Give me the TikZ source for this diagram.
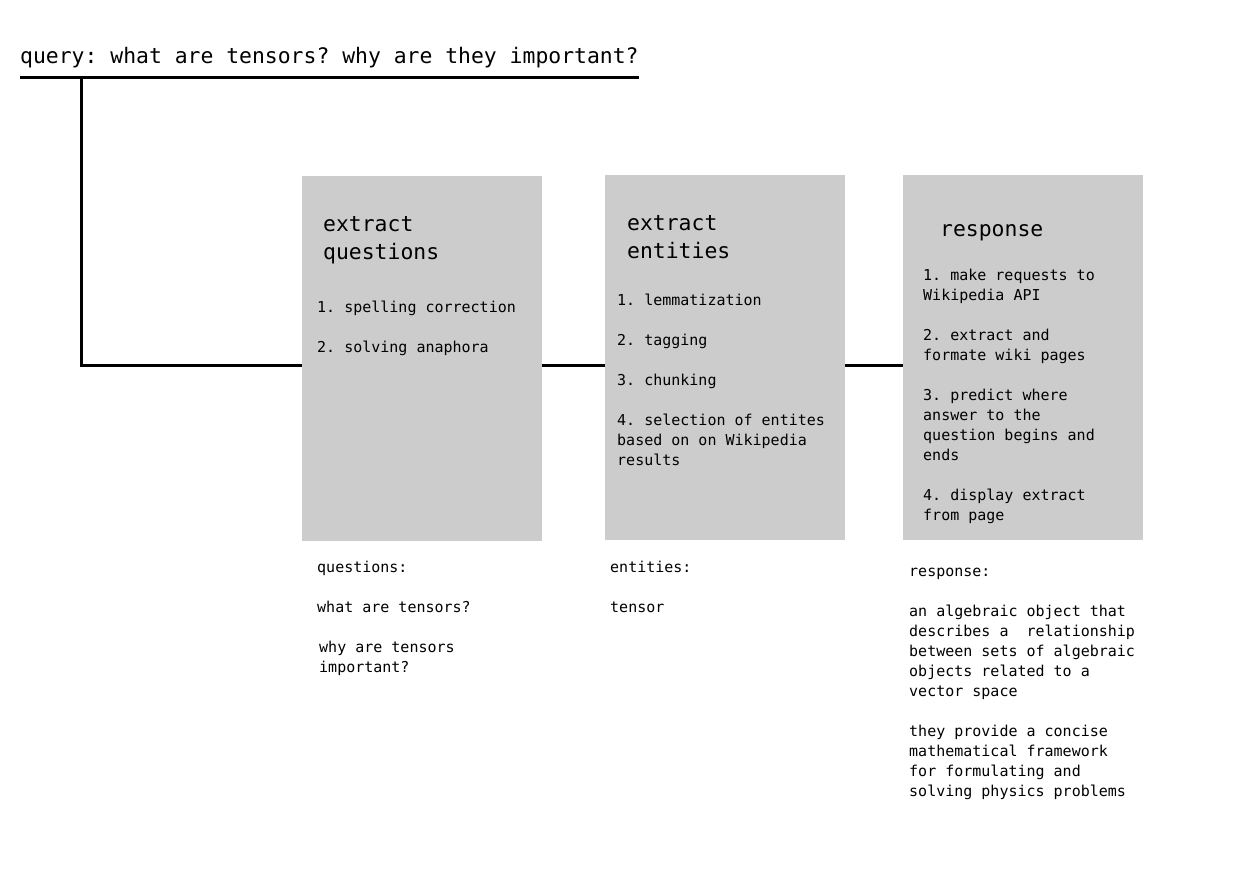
\documentclass[tikz,border=0pt]{standalone}
\usepackage{fontspec}
\newfontfamily\monofam{DejaVu Sans Mono}
\definecolor{boxgray}{HTML}{CCCCCC}
\tikzset{
  stagebox/.style={fill=boxgray, draw=none, inner sep=0pt, minimum width=240pt, minimum height=365pt, anchor=north west},
  bigtxt/.style={font=\monofam\frenchspacing\fontsize{21.4}{28}\selectfont, inner sep=0pt, anchor=base west},
  smalltxt/.style={font=\monofam\frenchspacing\fontsize{15}{20}\selectfont, inner sep=0pt, anchor=base west},
  wire/.style={line width=3pt, black}
}
\newcommand{\tline}[4]{\node[smalltxt] (#1) at (#2,#3) {#4};}
\frenchspacing
\begin{document}
\begin{tikzpicture}[x=1pt,y=-1pt]
\useasboundingbox (0,0) rectangle (1238,876);
% query
\node[bigtxt] (query) at (20,63) {query: what are tensors? why are they important?};
\coordinate (ql) at (20,77);
\coordinate (qr) at (639,77);
\coordinate (qv) at (81,77);
\coordinate (jn) at (81,365);
% boxes
\node[stagebox] (b1) at (302,176) {};
\node[stagebox] (b2) at (605,175) {};
\node[stagebox] (b3) at (903,175) {};
% connectors
\draw[wire] (ql) -- (qr);
\draw[wire] (qv) -- (jn) -- (b1.west |- jn);
\draw[wire] (b1.east |- jn) -- (b2.west |- jn);
\draw[wire] (b2.east |- jn) -- (b3.west |- jn);
% box 1
\node[bigtxt] (t1a) at (323,231) {extract};
\node[bigtxt] (t1b) at (323,259) {questions};
\tline{q1}{317}{312}{1. spelling correction}
\tline{q2}{317}{352}{2. solving anaphora}
% box 2
\node[bigtxt] (t2a) at (627,230) {extract};
\node[bigtxt] (t2b) at (627,258) {entities};
\tline{e1}{617}{305}{1. lemmatization}
\tline{e2}{617}{345}{2. tagging}
\tline{e3}{617}{385}{3. chunking}
\tline{e4}{617}{425}{4. selection of entites}
\tline{e5}{617}{445}{based on on Wikipedia}
\tline{e6}{617}{465}{results}
% box 3
\node[bigtxt] (t3a) at (940,236) {response};
\tline{r1}{923}{280}{1. make requests to}
\tline{r2}{923}{300}{Wikipedia API}
\tline{r3}{923}{340}{2. extract and}
\tline{r4}{923}{360}{formate wiki pages}
\tline{r5}{923}{400}{3. predict where}
\tline{r6}{923}{420}{answer to the}
\tline{r7}{923}{440}{question begins and}
\tline{r8}{923}{460}{ends}
\tline{r9}{923}{500}{4. display extract}
\tline{r10}{923}{520}{from page}
% outputs
\tline{o1}{317}{572}{questions:}
\tline{o2}{317}{612}{what are tensors?}
\tline{o3}{319}{652}{why are tensors}
\tline{o4}{319}{672}{important?}
\tline{o5}{610}{572}{entities:}
\tline{o6}{610}{612}{tensor}
\tline{o7}{909}{576}{response:}
\tline{o8}{909}{616}{an algebraic object that}
\tline{o9}{909}{636}{describes a\ \ relationship}
\tline{o10}{909}{656}{between sets of algebraic}
\tline{o11}{909}{676}{objects related to a}
\tline{o12}{909}{696}{vector space}
\tline{o13}{909}{736}{they provide a concise}
\tline{o14}{909}{756}{mathematical framework}
\tline{o15}{909}{776}{for formulating and}
\tline{o16}{909}{796}{solving physics problems}
\end{tikzpicture}
\end{document}
